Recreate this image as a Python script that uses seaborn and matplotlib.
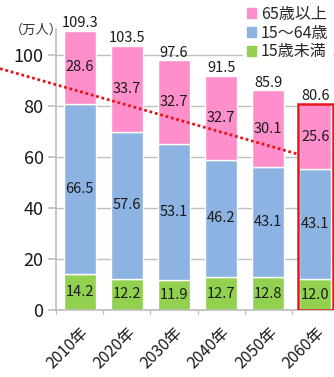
import matplotlib
matplotlib.use("Agg")
import matplotlib.pyplot as plt
import seaborn as sns
import numpy as np
import pandas as pd
from matplotlib.patches import Patch

years = ["2010年", "2020年", "2030年", "2040年", "2050年", "2060年"]
under15 = [14.2, 12.2, 11.9, 12.7, 12.8, 12.0]
age15_64 = [66.5, 57.6, 53.1, 46.2, 43.1, 43.1]
over65 = [28.6, 33.7, 32.7, 32.7, 30.1, 25.6]
totals = [109.3, 103.5, 97.6, 91.5, 85.9, 80.6]
series_names = ["65歳以上", "15～64歳", "15歳未満"]
yticks = [0, 20, 40, 60, 80, 100]
unit_label = "（万人）"

c_pink = "#FF8FCB"
c_blue = "#8DB3E2"
c_green = "#92D050"

sns.set_theme(style="white")
plt.rcParams['font.family'] = ['Noto Sans CJK JP', 'DejaVu Sans']

df = pd.DataFrame({"year": years, "u15": under15, "m": age15_64, "o65": over65})
b1 = np.array(under15)
b2 = b1 + np.array(age15_64)

fig = plt.figure(figsize=(3.34, 3.77), dpi=100)
ax = fig.add_axes([0.168, 0.178, 0.847, 0.745])

W = 0.68
sns.barplot(data=df, x="year", y="u15", color=c_green, width=W, saturation=1, ax=ax, zorder=2)
sns.barplot(data=df, x="year", y="m", bottom=b1, color=c_blue, width=W, saturation=1, ax=ax, zorder=2)
sns.barplot(data=df, x="year", y="o65", bottom=b2, color=c_pink, width=W, saturation=1, ax=ax, zorder=2)

fs = 10.5
for i in range(len(years)):
    ax.text(i, under15[i] / 2, f"{under15[i]:.1f}", ha="center", va="center", fontsize=fs, color="#1a1a1a", zorder=4)
    ax.text(i, b1[i] + age15_64[i] / 2, f"{age15_64[i]:.1f}", ha="center", va="center", fontsize=fs, color="#1a1a1a", zorder=4)
    ax.text(i, b2[i] + over65[i] / 2, f"{over65[i]:.1f}", ha="center", va="center", fontsize=fs, color="#1a1a1a", zorder=4)
    ax.text(i, totals[i] + 0.3, f"{totals[i]:.1f}", ha="center", va="bottom", fontsize=fs, color="#1a1a1a", zorder=4)

# red highlight box on last bar
last = len(years) - 1
ax.bar([last], [totals[last]], width=W + 0.06, fill=False, edgecolor="#E8141B", linewidth=1.8, zorder=5)

# red dotted trend line (annotation)
line_x = [-1.69, last - (W + 0.06) / 2]
line_y = [94.5, 61.0]
ax.plot(line_x, line_y, linestyle=(0, (1, 1)), color="#E8141B", linewidth=2, clip_on=False, zorder=3)

ax.set_ylim(0, 110)
ax.set_xlim(-0.5, len(years) - 0.5)
ax.set_yticks(yticks)
ax.yaxis.grid(True, color="#BFBFBF", linewidth=1)
ax.set_axisbelow(True)
ax.set_xlabel("")
ax.set_ylabel("")
for s in ["top", "right"]:
    ax.spines[s].set_visible(False)
ax.spines["left"].set_color("#BFBFBF")
ax.spines["bottom"].set_color("#BFBFBF")
ax.spines["left"].set_bounds(0, 110)
ax.tick_params(axis="y", left=True, length=6, color="#BFBFBF", labelsize=13, pad=3, labelcolor="#1a1a1a")
ax.set_xticks(np.arange(len(years)))
ax.set_xticklabels(years, rotation=45, ha="right", rotation_mode="anchor", fontsize=11.5, color="#1a1a1a")
ax.tick_params(axis="x", bottom=False, pad=4)
for b in np.arange(len(years)) - 0.5:
    ax.plot([b, b], [0, -1.8], color="#BFBFBF", linewidth=1, clip_on=False)

fig.text(0.03, 0.92, unit_label, fontsize=9.5, color="#333333", ha="left", va="center")

handles = [Patch(color=c_pink), Patch(color=c_blue), Patch(color=c_green)]
leg = fig.legend(handles, series_names, loc="upper right", bbox_to_anchor=(1.0, 1.0),
                 frameon=True, fontsize=11.5, handlelength=0.6, handleheight=0.6,
                 handletextpad=0.3, labelspacing=0.12, borderpad=0.2, borderaxespad=0.15)
leg.get_frame().set_edgecolor("white")
leg.get_frame().set_facecolor("white")
leg.get_frame().set_alpha(1)
leg.set_zorder(10)

fig.savefig("out.png", dpi=100)
